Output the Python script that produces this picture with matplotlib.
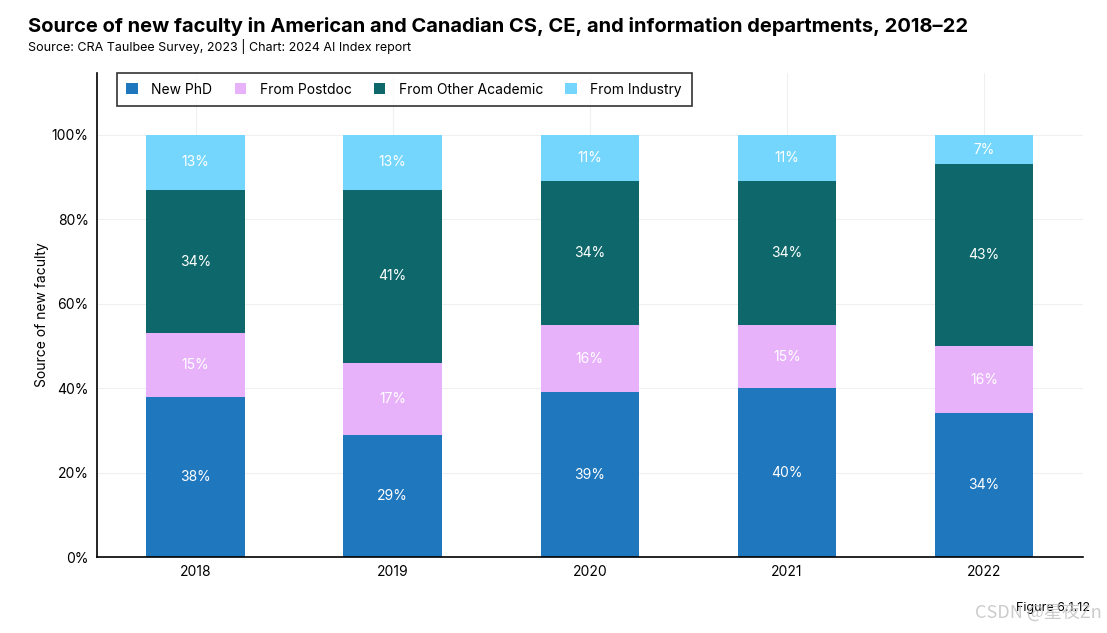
import numpy as np
import matplotlib.pyplot as plt

years = ["2018", "2019", "2020", "2021", "2022"]
new_phd = [38, 29, 39, 40, 34]
from_postdoc = [15, 17, 16, 15, 16]
from_other_academic = [34, 41, 34, 34, 43]
from_industry = [13, 13, 11, 11, 7]

series = [
    ("New PhD", new_phd, "#1f77be"),
    ("From Postdoc", from_postdoc, "#e8b2fb"),
    ("From Other Academic", from_other_academic, "#0e686b"),
    ("From Industry", from_industry, "#74d6fd"),
]

plt.rcParams['font.family'] = ['Inter', 'DejaVu Sans']

fig = plt.figure(figsize=(11.07, 6.33), dpi=100)
ax = fig.add_axes([0.0876, 0.120, 0.8904, 0.765])

x = np.arange(len(years))
bottom = np.zeros(len(years))
for name, vals, color in series:
    v = np.array(vals) / 100
    ax.bar(x, v, width=0.5, bottom=bottom, color=color, label=name, zorder=2)
    for xi, b, val in zip(x, bottom, vals):
        ax.text(xi, b + val / 200, f"{val}%", ha="center", va="center",
                color="white", fontsize=10, zorder=3)
    bottom += v

ax.set_xlim(-0.5, 4.5)
ax.set_ylim(0, 1.147)
ax.set_yticks([0, 0.2, 0.4, 0.6, 0.8, 1.0])
ax.set_yticklabels(["0%", "20%", "40%", "60%", "80%", "100%"])
ax.set_xticks(x)
ax.set_xticklabels(years)
ax.tick_params(axis="both", length=0, labelsize=10, pad=6)
ax.grid(True, color="#f0f0f0", linewidth=0.8, zorder=0)
for s in ["top", "right"]:
    ax.spines[s].set_visible(False)
ax.spines["left"].set_linewidth(1.2)
ax.spines["bottom"].set_linewidth(1.2)
ax.set_ylabel("Source of new faculty", fontsize=10, labelpad=2)

leg = ax.legend(loc="upper left", bbox_to_anchor=(0.02, 1.0), borderaxespad=0, ncol=4,
                frameon=True, fancybox=False, edgecolor="black", fontsize=10,
                handlelength=0.8, handleheight=0.8, columnspacing=1.6,
                handletextpad=1.0, borderpad=0.7)
leg.get_frame().set_linewidth(1.2)

fig.text(0.025, 0.958, "Source of new faculty in American and Canadian CS, CE, and information departments, 2018\u201322",
         fontsize=14.5, fontweight="bold", ha="left", va="center")
fig.text(0.025, 0.926, "Source: CRA Taulbee Survey, 2023 | Chart: 2024 AI Index report",
         fontsize=9, ha="left", va="center")
fig.text(0.985, 0.040, "Figure 6.1.12", fontsize=9, ha="right", va="center")
fig.text(0.995, 0.032, "CSDN @星夜Zn", fontsize=13, ha="right", va="center",
         color="#bfbfbf", alpha=0.8, family=['Noto Sans CJK SC', 'DejaVu Sans'])

fig.savefig("out.png", dpi=100)
